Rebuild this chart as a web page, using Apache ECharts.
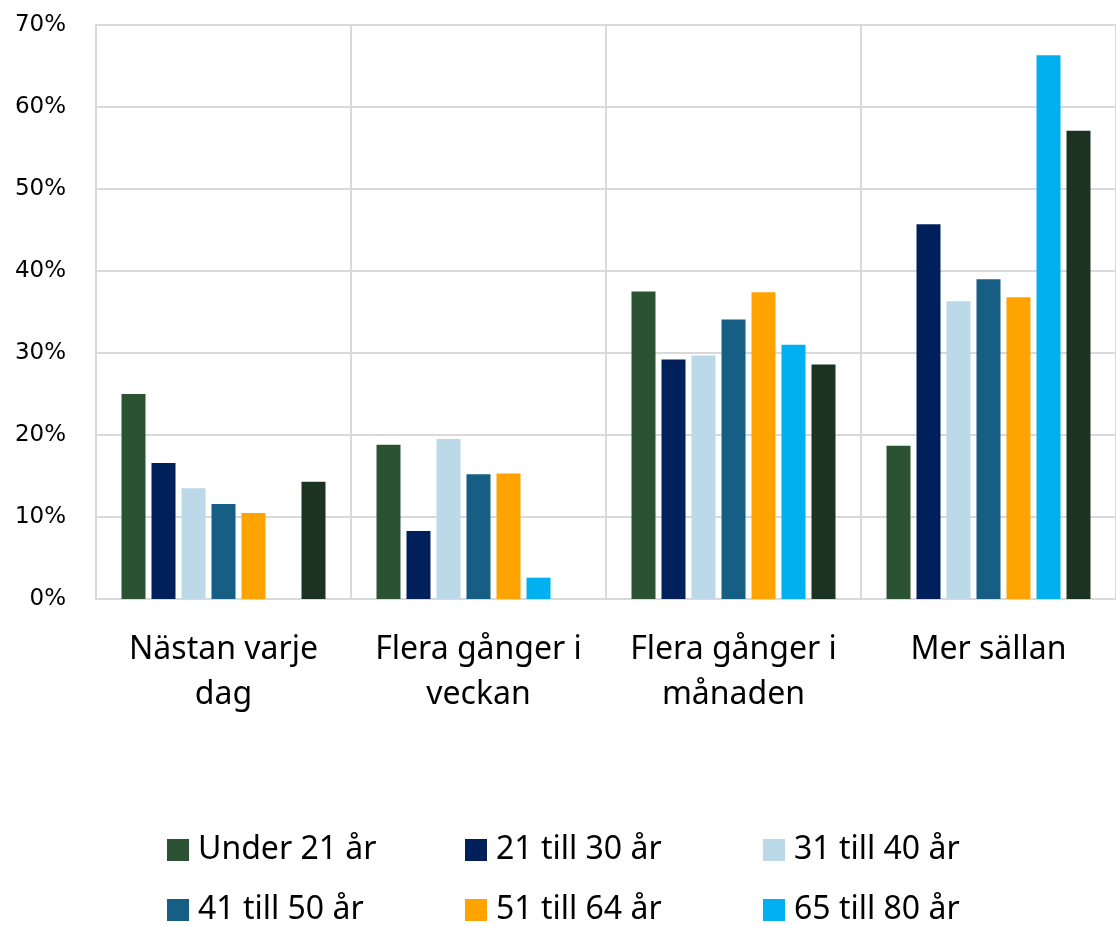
<!DOCTYPE html>
<html>
<head>
<meta charset="utf-8">
<script src="https://cdn.jsdelivr.net/npm/echarts@6/dist/echarts.min.js"></script>
<style>
  html, body { margin: 0; padding: 0; background: #fff; }
  #chart { width: 1116px; height: 926px; }
</style>
</head>
<body>
<div id="chart"></div>
<script>
// kategorier och värden (procent)
const categories = ['Nästan varje\ndag', 'Flera gånger i\nveckan', 'Flera gånger i\nmånaden', 'Mer sällan']
const under21 = [25.0, 18.8, 37.5, 18.7]
const age21to30 = [16.6, 8.3, 29.2, 45.7]
const age31to40 = [13.5, 19.5, 29.7, 36.3]
const age41to50 = [11.6, 15.2, 34.1, 39.0]
const age51to64 = [10.5, 15.3, 37.4, 36.8]
const age65to80 = [0, 2.6, 31.0, 66.3]
const over80 = [14.3, 0, 28.6, 57.1]
const yTicks = [0, 10, 20, 30, 40, 50, 60, 70]

const seriesNames = ['Under 21 år', '21 till 30 år', '31 till 40 år', '41 till 50 år', '51 till 64 år', '65 till 80 år', 'Över 80 år']
const seriesData = [under21, age21to30, age31to40, age41to50, age51to64, age65to80, over80]
const colors = ['#2c5234', '#00205b', '#bcd9ea', '#165e83', '#ffa300', '#00b0f0', '#1c3321']

const myChart = echarts.init(document.getElementById('chart'))
myChart.setOption({
    animation: false,
    color: colors,
    grid: { left: 96, right: -2, top: 25, bottom: 327 },
    legend: {
        data: seriesNames.slice(0, 6), // sista serien syns inte i förklaringen
        left: 167,
        top: 820,
        width: 900,
        padding: 0,
        itemWidth: 22,
        itemHeight: 22,
        itemGap: 0,
        icon: 'rect',
        textStyle: {
            fontFamily: 'Noto Sans',
            fontSize: 32,
            color: '#000',
            width: 267,
            lineHeight: 60,
            padding: [0, 0, 0, 4]
        }
    },
    xAxis: {
        type: 'category',
        data: categories,
        axisTick: { show: false },
        axisLine: { lineStyle: { color: '#d9d9d9', width: 2 } },
        splitLine: { show: true, lineStyle: { color: '#d9d9d9', width: 2 } },
        axisLabel: {
            interval: 0,
            margin: 28,
            fontFamily: 'Noto Sans',
            fontSize: 32,
            lineHeight: 45,
            color: '#000'
        }
    },
    yAxis: {
        type: 'value',
        min: yTicks[0],
        max: yTicks[yTicks.length - 1],
        interval: 10,
        axisLine: { show: true, lineStyle: { color: '#d9d9d9', width: 2 } },
        axisTick: { show: false },
        splitLine: { lineStyle: { color: '#d9d9d9', width: 2 } },
        axisLabel: {
            formatter: '{value}%',
            margin: 30,
            fontFamily: 'DejaVu Sans',
            fontSize: 23,
            color: '#000'
        }
    },
    series: seriesNames.map((name, i) => ({
        name: name,
        type: 'bar',
        barWidth: 24,
        barGap: '25%',
        data: seriesData[i]
    }))
})
</script>
</body>
</html>
